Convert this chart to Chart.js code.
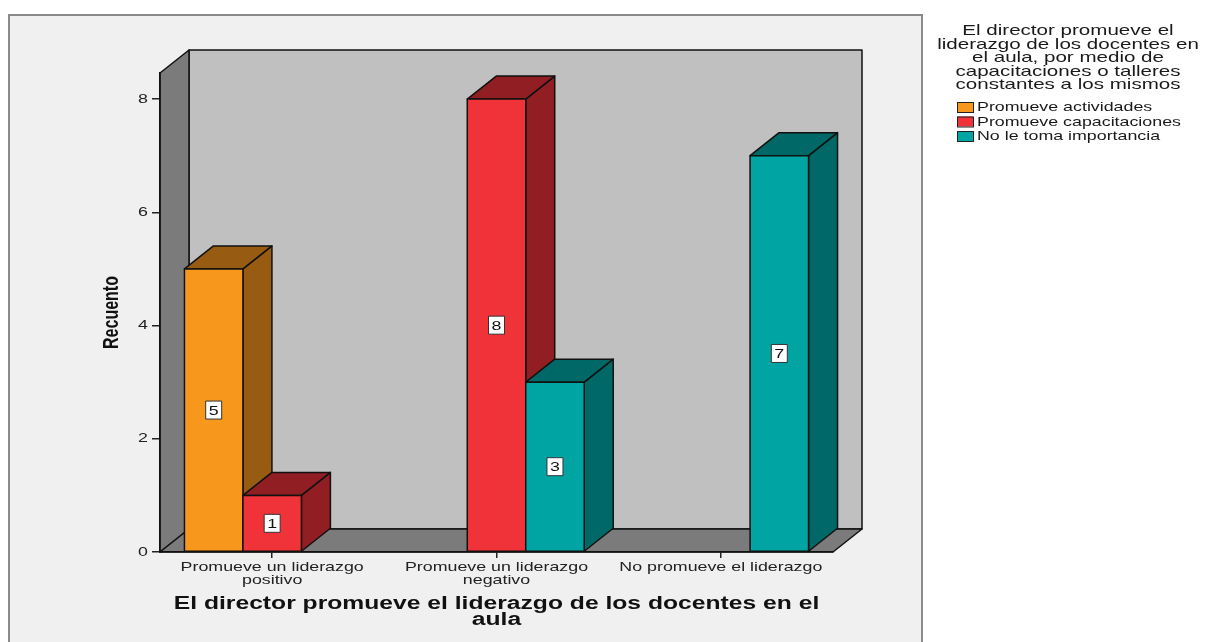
<!DOCTYPE html>
<html>
<head>
<meta charset="utf-8">
<title>Recuento</title>
<script src="https://cdn.jsdelivr.net/npm/chart.js@4.4.1/dist/chart.umd.min.js"></script>
<style>
  html, body { margin: 0; padding: 0; background: #ffffff; }
  canvas { display: block; }
</style>
</head>
<body>
<canvas id="c" width="1206" height="642"></canvas>
<script>
// ---- data ----
const categories = [
  ["Promueve un liderazgo", "positivo"],
  ["Promueve un liderazgo", "negativo"],
  "No promueve el liderazgo"
];
const seriesNames = ["Promueve actividades", "Promueve capacitaciones", "No le toma importancia"];
const actividades = [5, null, null];
const capacitaciones = [1, 8, null];
const noImportancia = [null, 3, 7];
const yTicks = [0, 2, 4, 6, 8];
const yMax = 8.46;
const xTitle = ["El director promueve el liderazgo de los docentes en el", "aula"];
const yTitle = "Recuento";
const legendTitle = [
  "El director promueve el",
  "liderazgo de los docentes en",
  "el aula, por medio de",
  "capacitaciones o talleres",
  "constantes a los mismos"
];

// ---- style ----
const FRONT = ["#f7981d", "#ef3339", "#00a5a3"];
const SHADE = ["#975c12", "#911e23", "#006866"];
const DEPTH_X = 29;
const DEPTH_Y = -23;
const FONT = "Liberation Sans";
const WIDEN = 1.37;

const canvas = document.getElementById("c");
const ctx = canvas.getContext("2d");

// Wide sans glyphs: stretch every label along the screen x direction
const plainFillText = ctx.fillText.bind(ctx);
ctx.fillText = function (text, x, y) {
  const m = ctx.getTransform();
  ctx.save();
  ctx.translate(x, y);
  if (Math.abs(m.b) > Math.abs(m.a)) ctx.scale(1, WIDEN); else ctx.scale(WIDEN, 1);
  plainFillText(text, 0, 0);
  ctx.restore();
};

function poly(c, pts, fill, stroke, lw) {
  c.beginPath();
  c.moveTo(pts[0][0], pts[0][1]);
  for (let i = 1; i < pts.length; i++) c.lineTo(pts[i][0], pts[i][1]);
  c.closePath();
  c.fillStyle = fill;
  c.fill();
  c.lineWidth = lw || 1.5;
  c.strokeStyle = stroke || "#111";
  c.lineJoin = "round";
  c.stroke();
}

// Frame and the three walls of the box
const backdrop = {
  id: "backdrop",
  beforeDraw(chart) {
    const c = chart.ctx;
    const a = chart.chartArea;
    c.save();
    c.fillStyle = "#f0f0f0";
    c.fillRect(9, 15, 913, 640);
    c.lineWidth = 2;
    c.strokeStyle = "#8a8a8a";
    c.strokeRect(9, 15, 913, 640);

    const L = a.left, R = a.right, T = a.top, B = a.bottom;
    poly(c, [[L + DEPTH_X, T + DEPTH_Y], [R + DEPTH_X, T + DEPTH_Y], [R + DEPTH_X, B + DEPTH_Y], [L + DEPTH_X, B + DEPTH_Y]], "#c0c0c0");
    poly(c, [[L, B], [L, T], [L + DEPTH_X, T + DEPTH_Y], [L + DEPTH_X, B + DEPTH_Y]], "#7b7b7b");
    poly(c, [[L, B], [L + DEPTH_X, B + DEPTH_Y], [R + DEPTH_X, B + DEPTH_Y], [R, B]], "#7b7b7b");
    c.restore();
  }
};

// Solid bars: side, top, then front face, left to right
const bars3d = {
  id: "bars3d",
  beforeDatasetsDraw(chart) {
    const c = chart.ctx;
    const items = [];
    chart.data.datasets.forEach((ds, i) => {
      const meta = chart.getDatasetMeta(i);
      meta.data.forEach((el, j) => {
        if (ds.data[j] == null) return;
        items.push({ el, i, value: ds.data[j] });
      });
    });
    items.sort((p, q) => p.el.x - q.el.x);
    c.save();
    items.forEach(({ el, i }) => {
      const x0 = el.x - el.width / 2, x1 = el.x + el.width / 2;
      const yt = el.y, yb = el.base;
      poly(c, [[x1, yt], [x1 + DEPTH_X, yt + DEPTH_Y], [x1 + DEPTH_X, yb + DEPTH_Y], [x1, yb]], SHADE[i]);
      poly(c, [[x0, yt], [x0 + DEPTH_X, yt + DEPTH_Y], [x1 + DEPTH_X, yt + DEPTH_Y], [x1, yt]], SHADE[i]);
      poly(c, [[x0, yt], [x1, yt], [x1, yb], [x0, yb]], FRONT[i]);
    });
    // value boxes
    c.font = "13px '" + FONT + "'";
    c.textAlign = "center";
    c.textBaseline = "middle";
    items.forEach(({ el, value }) => {
      const cy = (el.y + el.base) / 2;
      c.fillStyle = "#ffffff";
      c.fillRect(el.x - 8, cy - 9, 16, 18);
      c.lineWidth = 1;
      c.strokeStyle = "#333";
      c.strokeRect(el.x - 8, cy - 9, 16, 18);
      c.fillStyle = "#111";
      c.fillText(String(value), el.x, cy + 1);
    });
    c.restore();
    return false;
  }
};

// Legend block to the right of the frame
const sideLegend = {
  id: "sideLegend",
  afterDraw(chart) {
    const c = chart.ctx;
    c.save();
    c.fillStyle = "#1a1a1a";
    c.textAlign = "center";
    c.textBaseline = "middle";
    c.font = "15px '" + FONT + "'";
    legendTitle.forEach((t, k) => c.fillText(t, 1068, 31 + k * 13.5));
    c.font = "13px '" + FONT + "'";
    c.textAlign = "left";
    chart.data.datasets.forEach((ds, k) => {
      const top = 102 + k * 14.5;
      c.fillStyle = FRONT[k];
      c.fillRect(957, top, 16, 10);
      c.lineWidth = 1;
      c.strokeStyle = "#222";
      c.strokeRect(957.5, top + 0.5, 16, 10);
      c.fillStyle = "#1a1a1a";
      c.fillText(ds.label, 977, top + 5.5);
    });
    c.restore();
  }
};

new Chart(ctx, {
  type: "bar",
  data: {
    labels: categories,
    datasets: [
      { label: seriesNames[0], data: actividades, backgroundColor: FRONT[0] },
      { label: seriesNames[1], data: capacitaciones, backgroundColor: FRONT[1] },
      { label: seriesNames[2], data: noImportancia, backgroundColor: FRONT[2] }
    ]
  },
  options: {
    responsive: false,
    animation: false,
    events: [],
    categoryPercentage: 0.782,
    barPercentage: 1,
    layout: { padding: { left: 98, right: 373, top: 73, bottom: 0 } },
    plugins: { legend: { display: false }, tooltip: { enabled: false } },
    scales: {
      x: {
        offset: true,
        grid: { display: true, drawOnChartArea: false, drawTicks: true, tickLength: 6, offset: false, color: "#222", lineWidth: 1.5 },
        border: { display: true, color: "#111", width: 1.5 },
        ticks: { font: { family: FONT, size: 13, lineHeight: 1.0 }, color: "#222", maxRotation: 0, minRotation: 0, autoSkip: false, padding: 3 },
        title: { display: true, text: xTitle, font: { family: FONT, size: 18, weight: "bold", lineHeight: 0.9 }, color: "#111", padding: { top: 0, bottom: 14 } },
        afterFit(scale) { scale.height = 90; }
      },
      y: {
        min: 0,
        max: yMax,
        afterBuildTicks(scale) { scale.ticks = yTicks.map(v => ({ value: v })); },
        grid: { display: true, drawOnChartArea: false, drawTicks: true, tickLength: 8, color: "#222", lineWidth: 1.5 },
        border: { display: true, color: "#111", width: 1.5 },
        ticks: { font: { family: FONT, size: 13 }, color: "#222", padding: 4 },
        title: { display: true, text: yTitle, font: { family: FONT, size: 16, weight: "bold" }, color: "#111", padding: { top: 4, bottom: 0 } },
        afterFit(scale) { scale.width = 62; }
      }
    }
  },
  plugins: [backdrop, bars3d, sideLegend]
});
</script>
</body>
</html>
